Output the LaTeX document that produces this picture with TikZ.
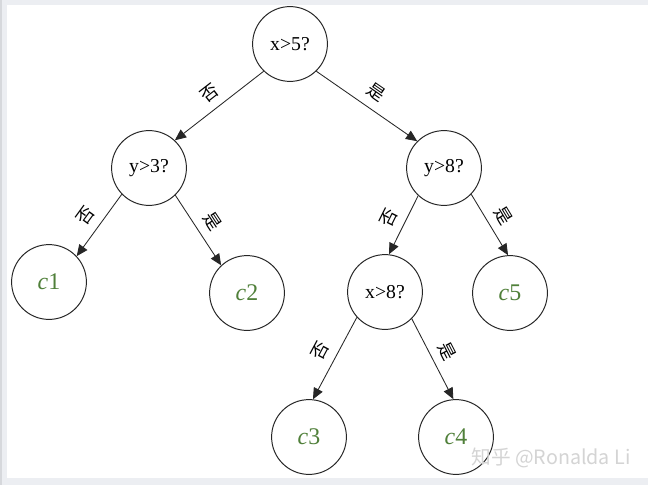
\documentclass[tikz,border=0pt]{standalone}
\usepackage{fontspec}
\setmainfont{Liberation Serif}
\newfontfamily\cjk{Noto Sans CJK SC}
\usepackage{tikz}
\usetikzlibrary{arrows.meta}
\definecolor{framegray}{RGB}{236,238,242}
\definecolor{edgegray}{RGB}{214,216,220}
\definecolor{leafgreen}{RGB}{80,128,58}
\definecolor{markgray}{RGB}{212,212,212}

\begin{document}
\begin{tikzpicture}[x=0.025cm,y=-0.025cm,
  test/.style={draw=black!85,circle,line width=0.7pt,minimum size=1.87cm,inner sep=0pt,
    font=\fontsize{14}{16}\selectfont},
  leaf/.style={test,text=leafgreen,font=\fontsize{17}{20}\selectfont},
  arr/.style={draw=black!85,line width=0.6pt,-{Triangle[length=8pt,width=7pt]}},
  lab/.style={font=\cjk\fontsize{12.5}{14}\selectfont,sloped,above=5pt,inner sep=1pt}]
\useasboundingbox (0,0) rectangle (648,485);
% frame of the screenshot
\fill[framegray] (0,0) rectangle (648,485);
\fill[edgegray] (0,0) rectangle (2,485);
\fill[white] (7,5) rectangle (648,478);

% tests
\node[test] (root) at (290,44) {x>5?};
\node[test] (y3) at (149,168) {y>3?};
\node[test] (y8) at (444,168) {y>8?};
\node[test] (x8) at (385,292) {x>8?};
% leaves
\node[leaf] (c1) at (49,282) {\textit{c}1};
\node[leaf] (c2) at (247,293) {\textit{c}2};
\node[leaf] (c5) at (510,293) {\textit{c}5};
\node[leaf] (c3) at (309,437) {\textit{c}3};
\node[leaf] (c4) at (456,437) {\textit{c}4};

% branches
\draw[arr] (root.226) -- node[lab] (l1) {否} (y3.47);
\draw[arr] (root.314) -- node[lab] (l2) {是} (y8.135);
\draw[arr] (y3.224) -- node[lab] (l3) {否} (c1.43);
\draw[arr] (y3.314) -- node[lab] (l4) {是} (c2.133);
\draw[arr] (y8.227) -- node[lab] (l5) {否} (x8.84);
\draw[arr] (y8.316) -- node[lab] (l6) {是} (c5.93);
\draw[arr] (x8.222) -- node[lab] (l7) {否} (c3.84);
\draw[arr] (x8.315) -- node[lab] (l8) {是} (c4.94);

\node[font=\cjk\fontsize{14}{16}\selectfont,text=markgray] (mark) at (551,458) {知乎 @Ronalda Li};
\end{tikzpicture}
\end{document}
